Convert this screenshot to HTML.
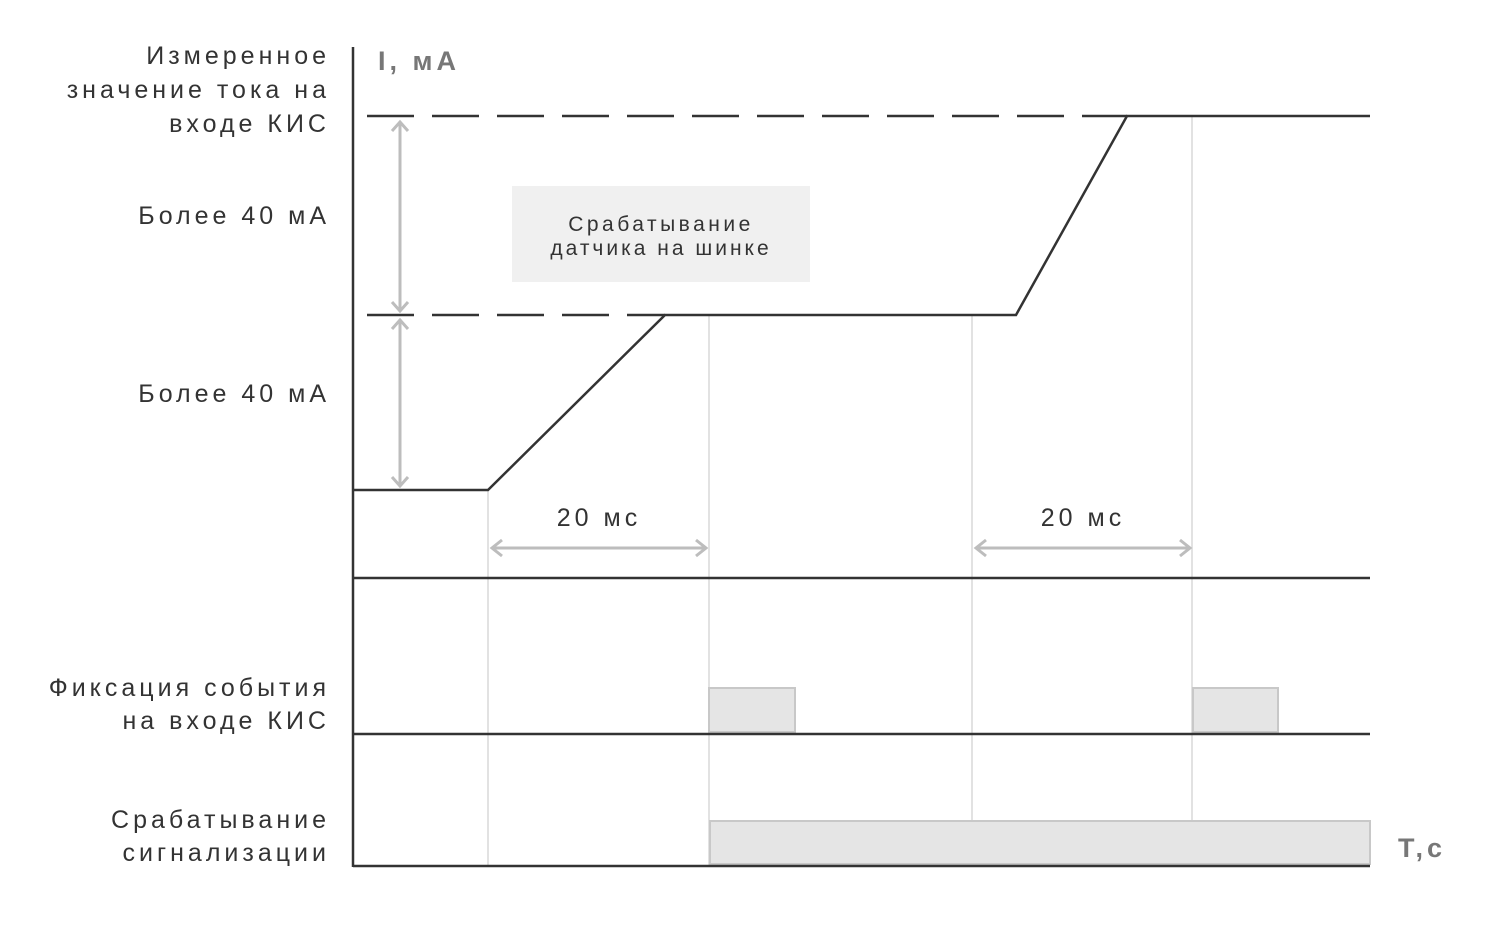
<!DOCTYPE html>
<html><head><meta charset="utf-8"><style>body{margin:0;background:#fff}svg{display:block}text{font-family:"Liberation Sans",sans-serif;fill:#333}</style></head><body>
<svg width="1485" height="927" viewBox="0 0 1485 927" xmlns="http://www.w3.org/2000/svg">
<rect width="1485" height="927" fill="#fff"/>
<g stroke="#e2e2e2" stroke-width="2">
<line x1="488" y1="490" x2="488" y2="866"/>
<line x1="709" y1="315" x2="709" y2="866"/>
<line x1="972" y1="315" x2="972" y2="866"/>
<line x1="1192" y1="116" x2="1192" y2="866"/>
</g>
<rect x="512" y="186" width="298" height="96" fill="#f0f0f0"/>
<text x="661" y="231" font-size="21" text-anchor="middle" letter-spacing="3.5">Срабатывание</text>
<text x="661" y="255" font-size="21" text-anchor="middle" letter-spacing="3">датчика на шинке</text>
<g fill="#e5e5e5" stroke="#c8c8c8" stroke-width="2">
<rect x="709" y="688" width="86" height="44"/>
<rect x="1193" y="688" width="85" height="44"/>
<rect x="710" y="821" width="660" height="43"/>
</g>
<g stroke="#333" stroke-width="2.5" fill="none">
<line x1="353" y1="47" x2="353" y2="867"/>
<line x1="353" y1="578" x2="1370" y2="578"/>
<line x1="353" y1="734" x2="1370" y2="734"/>
<line x1="353" y1="866" x2="1370" y2="866"/>
<line x1="353" y1="116" x2="1127" y2="116" stroke-dasharray="47 18" stroke-dashoffset="-14"/>
<line x1="353" y1="315" x2="665" y2="315" stroke-dasharray="47 18" stroke-dashoffset="-14"/>
<polyline points="353,490 488,490 665,315 1016,315 1127,116 1370,116"/>
</g>
<g stroke="#bdbdbd" stroke-width="3" fill="none">
<line x1="400" y1="122" x2="400" y2="311"/>
<polyline points="392,131 400,122 408,131"/><polyline points="392,302 400,311 408,302"/>
<line x1="400" y1="320" x2="400" y2="486"/>
<polyline points="392,329 400,320 408,329"/><polyline points="392,477 400,486 408,477"/>
<line x1="492" y1="548" x2="706" y2="548"/>
<polyline points="502,540 492,548 502,556"/><polyline points="696,540 706,548 696,556"/>
<line x1="976" y1="548" x2="1190" y2="548"/>
<polyline points="986,540 976,548 986,556"/><polyline points="1180,540 1190,548 1180,556"/>
</g>
<g font-size="25" text-anchor="end" letter-spacing="4">
<text x="330" y="64">Измеренное</text>
<text x="330" y="98">значение тока на</text>
<text x="330" y="132">входе КИС</text>
<text x="330" y="224">Более 40 мА</text>
<text x="330" y="402">Более 40 мА</text>
<text x="330" y="696">Фиксация события</text>
<text x="330" y="729">на входе КИС</text>
<text x="330" y="828">Срабатывание</text>
<text x="330" y="861">сигнализации</text>
</g>
<text x="599" y="526" font-size="25" text-anchor="middle" letter-spacing="4">20 мс</text>
<text x="1083" y="526" font-size="25" text-anchor="middle" letter-spacing="4">20 мс</text>
<text x="378" y="70" font-size="27" font-weight="bold" letter-spacing="4" style="fill:#777">I, мА</text>
<text x="1398" y="857" font-size="27" font-weight="bold" letter-spacing="4" style="fill:#777">T,c</text>
</svg>
</body></html>
